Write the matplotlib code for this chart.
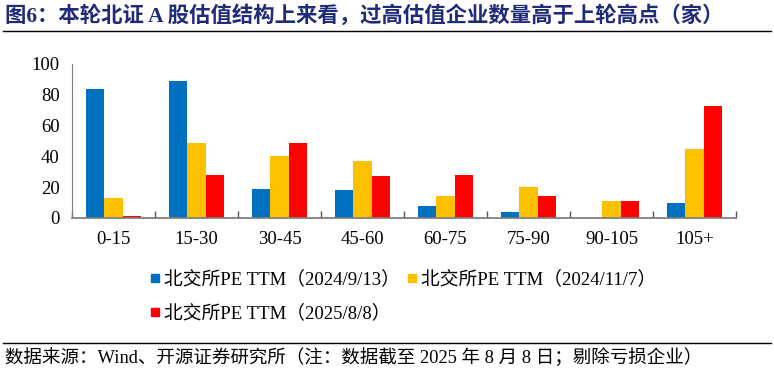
import matplotlib
matplotlib.use("Agg")
import matplotlib.pyplot as plt
import numpy as np
from matplotlib.lines import Line2D

plt.rcParams["font.family"] = ["Liberation Serif", "Noto Sans CJK SC", "DejaVu Sans"]

# values (number of companies per PE TTM bucket)
buckets = ["0-15", "15-30", "30-45", "45-60", "60-75", "75-90", "90-105", "105+"]
pe_20240913 = [84, 89, 19, 18, 8, 4, 0, 10]
pe_20241107 = [13, 49, 40, 37, 14, 20, 11, 45]
pe_20250808 = [1, 28, 49, 27, 28, 14, 11, 73]
series_labels = ["北交所PE TTM（2024/9/13）", "北交所PE TTM（2024/11/7）",
                 "北交所PE TTM（2025/8/8）"]
colors = ["#0070C0", "#FFC000", "#FF0000"]

title = "图6：本轮北证 A 股估值结构上来看，过高估值企业数量高于上轮高点（家）"
source = "数据来源：Wind、开源证券研究所（注：数据截至 2025 年 8 月 8 日；剔除亏损企业）"

fig = plt.figure(figsize=(7.74, 3.74), dpi=100)
ax = fig.add_axes([72 / 774, 1 - 218 / 374, (736 - 72) / 774, (218 - 64) / 374])

x = np.arange(len(buckets))
w = 0.22
for i, (vals, c) in enumerate(zip([pe_20240913, pe_20241107, pe_20250808], colors)):
    ax.bar(x + (i - 1) * w, vals, width=w, color=c, edgecolor="none")

ax.set_xlim(-0.5, len(buckets) - 0.5)
ax.set_ylim(0, 100)
ax.set_yticks(range(0, 101, 20))
ax.set_xticks(x)
ax.set_xticklabels(buckets)
ax.set_xticks(np.arange(-0.5, len(buckets)), minor=True)
ax.tick_params(axis="x", which="major", length=0, pad=9, labelsize=13.5)
ax.tick_params(axis="x", which="minor", direction="in", length=5, width=1, color="#555555")
ax.tick_params(axis="y", length=0, pad=9, labelsize=13.5)
for s in ["top", "right"]:
    ax.spines[s].set_visible(False)
ax.spines["left"].set_color("#808080")
ax.spines["bottom"].set_color("#808080")
ax.spines["bottom"].set_linewidth(1.3)

# legend fills column-wise, so reorder to get row-wise entries
handles = [Line2D([], [], marker="s", ls="none", color=c, markersize=6) for c in colors]
order = [0, 2, 1]
fig.legend([handles[i] for i in order], [series_labels[i] for i in order],
           ncol=2, loc="upper left",
           bbox_to_anchor=(142 / 774, 1 - 263 / 374), frameon=False,
           fontsize=13.5, handlelength=0.6, handletextpad=0.2, columnspacing=0.3,
           labelspacing=0.85, borderaxespad=0)

fig.text(5 / 774, 1 - 16 / 374, title, fontsize=15.4, fontweight="bold",
         color="#1F2A78", va="center", ha="left",
         family=["Liberation Serif", "Noto Sans CJK SC"])
fig.add_artist(Line2D([3 / 774, 771 / 774], [1 - 31 / 374] * 2, color="black", lw=1))
fig.add_artist(Line2D([3 / 774, 771 / 774], [1 - 343 / 374] * 2, color="black", lw=1))
fig.text(5 / 774, 1 - 358 / 374, source, fontsize=13.3, va="center", ha="left")

fig.savefig("out.png", dpi=100)
